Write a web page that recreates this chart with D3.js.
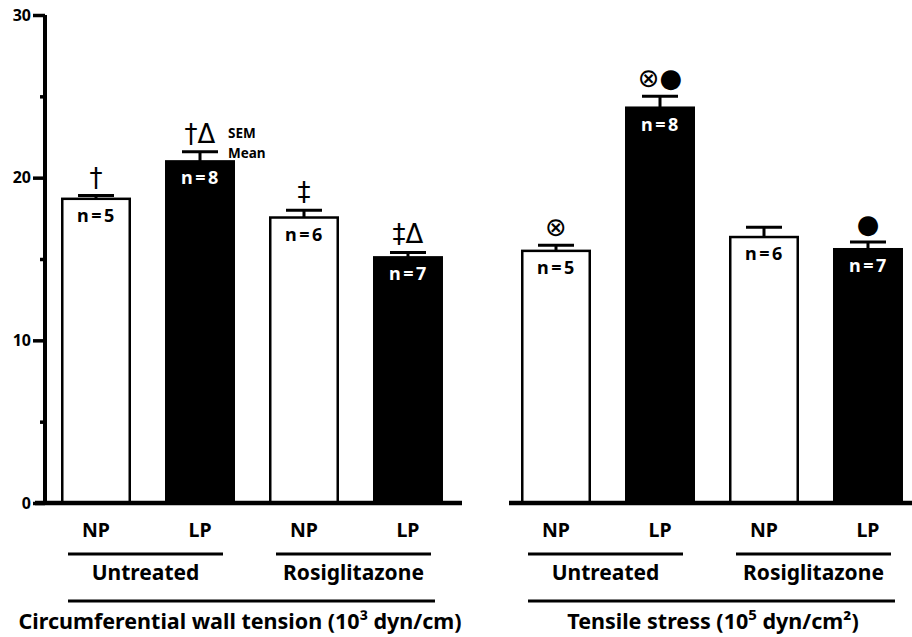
<!DOCTYPE html>
<html lang="en">
<head>
	<meta charset="UTF-8">
	<title>Wall tension and tensile stress</title>
	<script src="https://cdn.jsdelivr.net/npm/d3@7"></script>
	<style>
		body { margin: 0; background: #fff; }
		text { font-family: "Noto Sans", "DejaVu Sans", sans-serif; font-weight: bold; }
	</style>
</head>
<body>
	<svg id="svg"></svg>
	<script>
		var bars = ["untreatedNP", "untreatedLP", "rosiNP", "rosiLP"];
		var barLabels = ["NP", "LP", "NP", "LP"];
		var groupLabels = ["Untreated", "Rosiglitazone"];
		var nCounts = [5, 8, 6, 7];
		var tensionMean = [18.7, 21.0, 17.55, 15.1];
		var tensionSem = [0.2, 0.6, 0.45, 0.3];
		var tensionMarks = ["\u2020", "\u2020\u0394", "\u2021", "\u2021\u0394"];
		var stressMean = [15.5, 24.3, 16.35, 15.6];
		var stressSem = [0.35, 0.7, 0.6, 0.45];
		var stressMarks = ["\u2297", "\u2297\u25CF", "", "\u25CF"];
		var yTicks = [0, 10, 20, 30];
		var yMinor = [5, 15, 25];

		var w = 912, h = 637;
		var svg = d3.select("#svg").attr("width", w).attr("height", h);

		var y = d3.scaleLinear().domain([0, 30]).range([503, 15]);

		// y axis of left panel
		var yAxis = svg.append("g").attr("transform", "translate(45,0)")
			.call(d3.axisLeft(y).tickValues(yTicks).tickSize(12).tickPadding(2));
		yAxis.select(".domain").attr("stroke", "#000").attr("stroke-width", 4)
			.attr("d", "M0," + y(30) + "V" + y(0));
		yAxis.selectAll(".tick line").attr("stroke-width", 3.5);
		yAxis.selectAll(".tick text").attr("font-size", 16).attr("fill", "#000")
			.style("font-family", "Noto Sans").style("font-weight", "bold");
		svg.append("g").attr("transform", "translate(45,0)")
			.call(d3.axisLeft(y).tickValues(yMinor).tickSize(5).tickFormat(""))
			.call(function(g) {
				g.select(".domain").remove();
				g.selectAll(".tick line").attr("stroke-width", 3.5);
			});

		function panel(range, axisStart, means, sems, marks, title, titleX) {
			var x = d3.scaleBand().domain(bars).range(range)
				.paddingInner(0.327).paddingOuter(0.154);
			var bw = x.bandwidth();
			var g = svg.append("g");

			g.append("line").attr("x1", axisStart).attr("x2", range[1] + 3)
				.attr("y1", y(0)).attr("y2", y(0))
				.attr("stroke", "#000").attr("stroke-width", 4.5);

			var dark = function(i) { return i % 2 == 1; };

			// error bars (upper only)
			g.selectAll(".err").data(bars).enter().append("path")
				.attr("fill", "none").attr("stroke", "#000").attr("stroke-width", 3)
				.attr("d", function(d, i) {
					var cx = x(d) + bw / 2, top = y(means[i] + sems[i]);
					return "M" + cx + "," + y(means[i]) + "V" + top +
						"M" + (cx - 18) + "," + top + "H" + (cx + 18);
				});

			g.selectAll(".bar").data(bars).enter().append("rect")
				.attr("x", function(d) { return x(d) + 1.25; })
				.attr("width", bw - 2.5)
				.attr("y", function(d, i) { return y(means[i]); })
				.attr("height", function(d, i) { return y(0) - y(means[i]) - 1; })
				.attr("fill", function(d, i) { return dark(i) ? "#000" : "#fff"; })
				.attr("stroke", "#000").attr("stroke-width", 2.5);

			g.selectAll(".n").data(bars).enter().append("text")
				.attr("x", function(d) { return x(d) + bw / 2 + 1; })
				.attr("y", function(d, i) { return y(means[i]) + 23; })
				.attr("text-anchor", "middle").attr("font-size", 18)
				.attr("letter-spacing", 2.5)
				.attr("fill", function(d, i) { return dark(i) ? "#fff" : "#000"; })
				.text(function(d, i) { return "n=" + nCounts[i]; });

			g.selectAll(".mark").data(bars).enter().append("text")
				.attr("x", function(d) { return x(d) + bw / 2; })
				.attr("y", function(d, i) { return y(means[i] + sems[i]) - 9; })
				.attr("text-anchor", "middle").attr("font-size", 26)
				.style("font-family", "DejaVu Sans").style("font-weight", "normal")
				.text(function(d, i) { return marks[i]; });

			g.selectAll(".xl").data(bars).enter().append("text")
				.attr("x", function(d) { return x(d) + bw / 2; })
				.attr("y", 537).attr("text-anchor", "middle").attr("font-size", 19.5)
				.text(function(d, i) { return barLabels[i]; });

			groupLabels.forEach(function(lab, k) {
				var a = x(bars[k * 2]) + 7, b = x(bars[k * 2 + 1]) + bw - 12;
				g.append("line").attr("x1", a).attr("x2", b).attr("y1", 554).attr("y2", 554)
					.attr("stroke", "#000").attr("stroke-width", 3);
				g.append("text").attr("x", (a + b) / 2).attr("y", 580)
					.attr("text-anchor", "middle").attr("font-size", 21).text(lab);
			});

			var a0 = x(bars[0]) + 7, b0 = x(bars[3]) + bw - 8;
			g.append("line").attr("x1", a0).attr("x2", b0).attr("y1", 601).attr("y2", 601)
				.attr("stroke", "#000").attr("stroke-width", 3);
			var t = g.append("text").attr("x", titleX).attr("y", 629)
				.attr("text-anchor", "middle").attr("font-size", 21.5);
			title(t);
			return { x: x, g: g };
		}

		var left = panel([45, 459], 35, tensionMean, tensionSem, tensionMarks, function(t) {
			t.text("Circumferential wall tension (10\u00B3 dyn/cm)");
		}, 240);

		// SEM / Mean key next to the second bar
		var kx = left.x(bars[1]) + left.x.bandwidth() - 7;
		var capY = y(tensionMean[1] + tensionSem[1]);
		left.g.append("text").attr("x", kx).attr("y", capY - 14).attr("font-size", 13.5).text("SEM");
		left.g.append("text").attr("x", kx).attr("y", capY + 6).attr("font-size", 13.5).text("Mean");

		panel([505, 919], 509, stressMean, stressSem, stressMarks, function(t) {
			t.append("tspan").text("Tensile stress (10");
			t.append("tspan").attr("font-size", 15).attr("dy", -9).text("5");
			t.append("tspan").attr("dy", 9).text(" dyn/cm\u00B2)");
		}, 713);
	</script>
</body>
</html>
